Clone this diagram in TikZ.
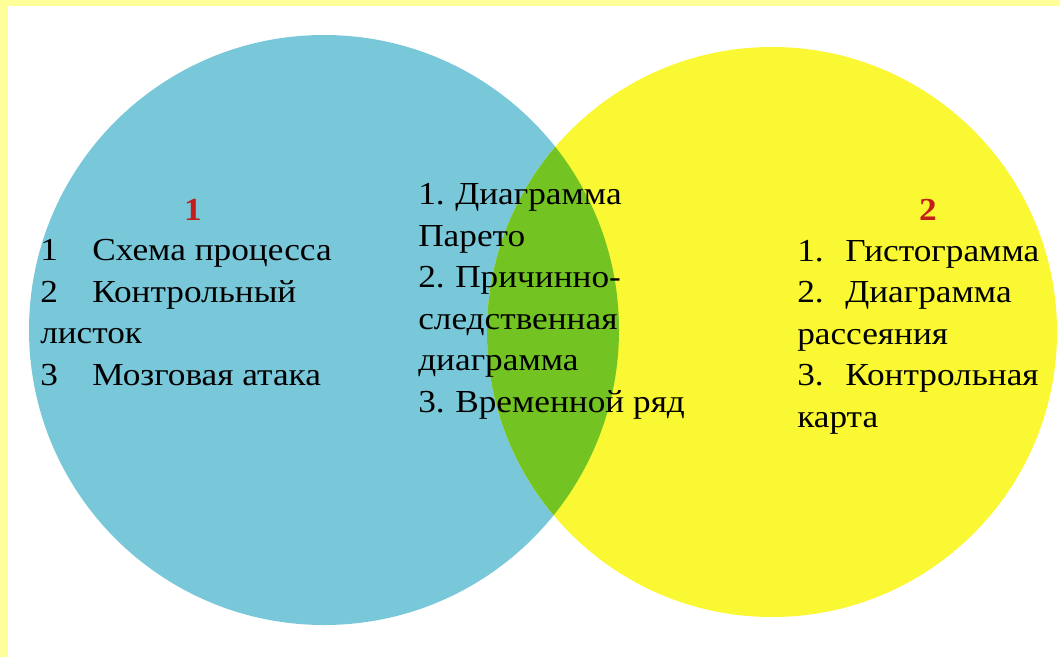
\documentclass[tikz,border=0pt]{standalone}
\usepackage{fontspec}
\setmainfont{Liberation Serif}[FakeStretch=1.1]
\usepackage{tikz}
\usetikzlibrary{positioning}
\definecolor{frameyel}{RGB}{255,255,153}
\definecolor{setblue}{RGB}{120,200,218}
\definecolor{setyel}{RGB}{250,248,50}
\definecolor{setgreen}{RGB}{115,195,35}
\definecolor{setred}{RGB}{195,30,25}
\newcommand{\lstnum}[2]{\makebox[#1][l]{#2}}

\begin{document}
\begin{tikzpicture}[x=0.025cm, y=-0.025cm,
  lst/.style={anchor=base west, inner sep=0pt, align=left,
              font=\fontsize{22.8}{29.5}\selectfont},
  num/.style={inner sep=0pt, text=setred,
              font=\fontsize{22.8}{29.5}\selectfont\bfseries},
]
  \fill[white] (0,0) rectangle (1060,657);
  \useasboundingbox (0,0) rectangle (1060,657);
  % frame
  \fill[frameyel] (0,0) rectangle (1060,6);
  \fill[frameyel] (0,0) rectangle (8,657);

  \coordinate (lc) at (324,330);
  \coordinate (rc) at (772,332);

  % the two sets and their overlap
  \fill[setblue] (lc) circle (295);
  \fill[setyel]  (rc) circle (285);
  \begin{scope}
    \clip (lc) circle (295);
    \fill[setgreen] (rc) circle (285);
  \end{scope}

  \node[num] (n1) at (193,210) {1};
  \node[num] (n2) at (928,210) {2};

  % base anchor sits on the last line
  \node[lst] (ll) at (40,385)
    {\lstnum{1.3cm}{1}Схема процесса\\
     \lstnum{1.3cm}{2}Контрольный\\
     листок\\
     \lstnum{1.3cm}{3}Мозговая атака};

  \node[lst] (ml) at (418,412)
    {\lstnum{0.925cm}{1.}Диаграмма\\
     Парето\\
     \lstnum{0.925cm}{2.}Причинно-\\
     следственная\\
     диаграмма\\
     \lstnum{0.925cm}{3.}Временной ряд};

  \node[lst] (rl) at (797,427)
    {\lstnum{1.2cm}{1.}Гистограмма\\
     \lstnum{1.2cm}{2.}Диаграмма\\
     рассеяния\\
     \lstnum{1.2cm}{3.}Контрольная\\
     карта};
\end{tikzpicture}
\end{document}
